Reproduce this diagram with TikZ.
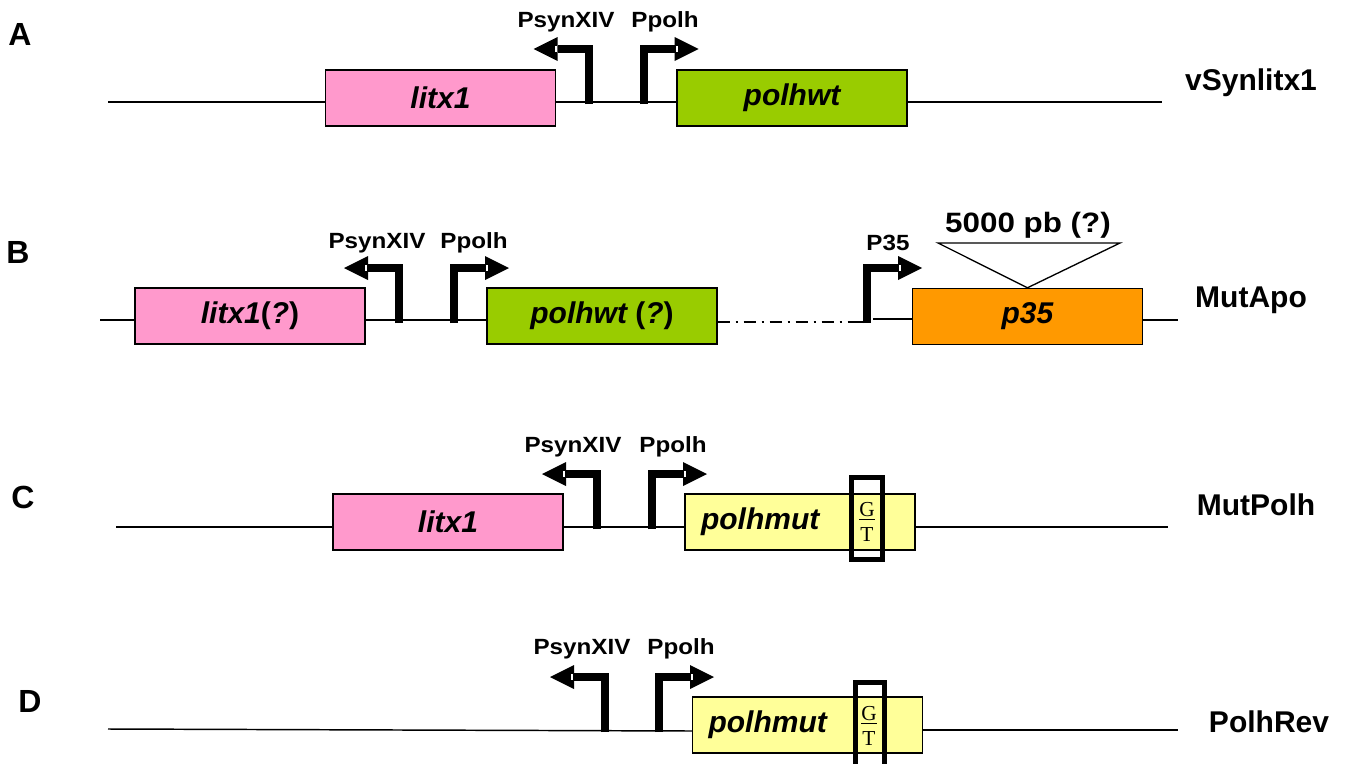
\documentclass[tikz,border=0pt]{standalone}
\usepackage{fontspec}
\usepackage{graphicx}
\setmainfont{Liberation Sans}
\newfontfamily\gtfont{Liberation Serif}
\definecolor{genepink}{HTML}{FF99CC}
\definecolor{genegreen}{HTML}{99CC00}
\definecolor{geneorange}{HTML}{FF9900}
\definecolor{geneyellow}{HTML}{FFFF99}
\tikzset{
  genebox/.style={draw=black, line width=1.1pt, minimum width=172.5pt, minimum height=42pt, inner sep=0pt,
    font=\fontsize{22.5}{26}\selectfont\bfseries\itshape},
  backbone/.style={line width=1.1pt},
  dashdotline/.style={line width=1.8pt, dash pattern=on 9.5pt off 4pt on 2pt off 4pt},
  prombar/.style={line width=6pt, line join=miter, line cap=butt},
  promlabel/.style={font=\fontsize{16.5}{19}\selectfont\bfseries, inner sep=0pt},
  rowlabel/.style={font=\fontsize{22.5}{26}\selectfont\bfseries, inner sep=0pt},
  letterlabel/.style={font=\fontsize{24}{28}\selectfont\bfseries, inner sep=0pt},
  gtbox/.style={draw=black, line width=3.8pt},
}
% left-pointing promoter: bar x, backbone y
\newcommand\promLeft[2]{%
  \draw[prombar] (#1,#2+2) -- (#1,#2-53) -- (#1-31,#2-53);
  \fill (#1-31,#2-65) -- (#1-55,#2-53) -- (#1-31,#2-41) -- cycle;
  \fill[white] (#1-34,#2-56) rectangle (#1-32,#2-50);
}
% right-pointing promoter
\newcommand\promRight[2]{%
  \draw[prombar] (#1,#2+2) -- (#1,#2-53) -- (#1+31,#2-53);
  \fill (#1+31,#2-65) -- (#1+55,#2-53) -- (#1+31,#2-41) -- cycle;
  \fill[white] (#1+32,#2-56) rectangle (#1+34,#2-50);
}
\newcommand\gtmark[3]{% center x, G y, T y
  \node[font=\gtfont\fontsize{16}{18}\selectfont, inner sep=0pt] at (#1,#2) {G};
  \node[font=\gtfont\fontsize{16}{18}\selectfont, inner sep=0pt] at (#1,#3) {T};
  \draw[line width=1pt] (#1-8,{(#2+#3)/2-3}) -- (#1+8,{(#2+#3)/2-3});
}
\begin{document}
\begin{tikzpicture}[x=0.75pt,y=-0.75pt]
\useasboundingbox (0,0) rectangle (1354,764);
\fill[white] (0,0) rectangle (1354,764);

% ---------------- Row A ----------------
\node[letterlabel] (LA) at (20,34) {A};
\node[rowlabel] (RA) at (1251,83) {vSynlitx1};
\coordinate (A0) at (108,102);
\coordinate (A1) at (1162,102);
\node[genebox, fill=genepink] (a1) at (440.5,98) {litx1};
\node[genebox, fill=genegreen] (a2) at (792,98) {polhwt};
\draw[backbone] (A0) -- (a1.west |- A0);
\draw[backbone] (a1.east |- A0) -- (a2.west |- A0);
\draw[backbone] (a2.east |- A0) -- (A1);
\promLeft{588.5}{102}
\promRight{643.5}{102}
\node[promlabel] (pA1) at (566,22) {\scalebox{1.1}[1]{PsynXIV}};
\node[promlabel] (pA2) at (665,22) {\scalebox{1.1}[1]{Ppolh}};

% ---------------- Row B ----------------
\node[letterlabel] (LB) at (18,252) {B};
\node[rowlabel] (RB) at (1251,300) {MutApo};
\coordinate (B0) at (100,320);
\coordinate (B1) at (1178,320);
\coordinate (Bd) at (862,322);
\coordinate (Bs) at (873,319);
\node[genebox, fill=genepink] (b1) at (250,316) {litx1\upshape(\itshape?\upshape)};
\node[genebox, fill=genegreen] (b2) at (602,316) {polhwt \upshape(\itshape?\upshape)};
\node[genebox, fill=geneorange] (b3) at (1027.5,316.5) {p35};
\draw[backbone] (B0) -- (b1.west |- B0);
\draw[backbone] (b1.east |- B0) -- (b2.west |- B0);
\draw[dashdotline] (b2.east |- Bd) -- (Bd);
\draw[backbone] (Bs) -- (b3.west |- Bs);
\draw[backbone] (b3.east |- B0) -- (B1);
\promLeft{399}{321}
\promRight{454}{321}
\promRight{867}{321}
\draw[line width=2.2pt] (858,322) -- (871,322);
\node[promlabel] (pB1) at (377,243) {\scalebox{1.1}[1]{PsynXIV}};
\node[promlabel] (pB2) at (474,243) {\scalebox{1.1}[1]{Ppolh}};
\node[promlabel] (pB3) at (888,243) {\scalebox{1.1}[1]{P35}};
\coordinate (tl) at (938,243);
\coordinate (tr) at (1120,243);
\draw[line width=1pt, fill=white] (tl) -- (b3.north) -- (tr) -- cycle;
\node[font=\fontsize{21}{24}\selectfont\bfseries, inner sep=0pt] (kb) at (1028,225) {\scalebox{1.12}[1]{5000 pb (?)}};

% ---------------- Row C ----------------
\node[letterlabel] (LC) at (23,497) {C};
\node[rowlabel] (RC) at (1256,505) {MutPolh};
\coordinate (C0) at (116,527);
\coordinate (C1) at (1168,527);
\node[genebox, fill=genepink] (c1) at (448,522) {litx1};
\node[genebox, fill=geneyellow, text width=172.5pt, align=left] (c2) at (800,522) {\hspace*{12pt}polhmut};
\draw[backbone] (C0) -- (c1.west |- C0);
\draw[backbone] (c1.east |- C0) -- (c2.west |- C0);
\draw[backbone] (c2.east |- C0) -- (C1);
\promLeft{597}{527}
\promRight{652}{527}
\node[promlabel] (pC1) at (573,447) {\scalebox{1.1}[1]{PsynXIV}};
\node[promlabel] (pC2) at (673,447) {\scalebox{1.1}[1]{Ppolh}};
\draw[gtbox] (851.5,477.5) rectangle (882.5,559.5);
\gtmark{867}{510}{535}

% ---------------- Row D ----------------
\node[letterlabel] (LD) at (30,701) {D};
\node[rowlabel] (RD) at (1269,722) {PolhRev};
\coordinate (D0) at (108,729);
\coordinate (D1) at (1178,730);
\node[genebox, fill=geneyellow, text width=172.5pt, align=left] (d1) at (807.5,725) {\hspace*{12pt}polhmut};
\draw[backbone] (D0) -- (d1.west |- 0,731);
\draw[backbone] (d1.east |- D1) -- (D1);
\promLeft{605}{730}
\promRight{659}{730}
\node[promlabel] (pD1) at (582,649) {\scalebox{1.1}[1]{PsynXIV}};
\node[promlabel] (pD2) at (681,649) {\scalebox{1.1}[1]{Ppolh}};
\draw[gtbox] (855.5,682.5) rectangle (884.5,772);
\gtmark{869}{714}{739}
\end{tikzpicture}
\end{document}
